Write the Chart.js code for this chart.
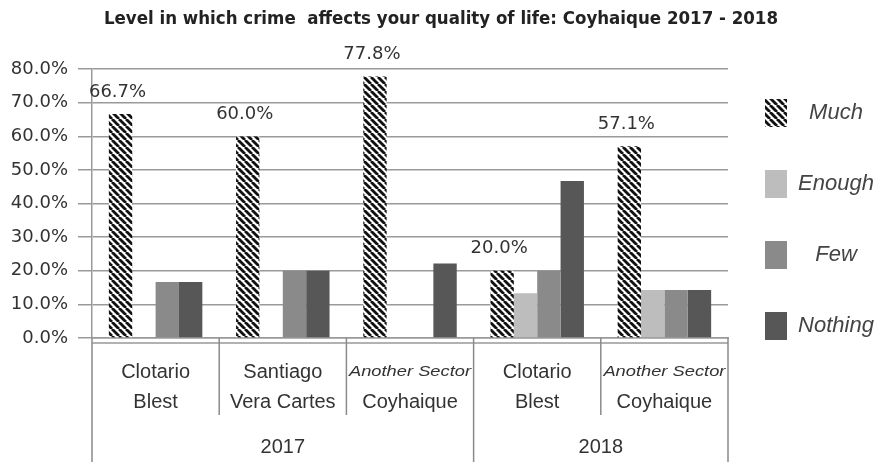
<!DOCTYPE html>
<html>
<head>
<meta charset="utf-8">
<title>Crime and quality of life - Coyhaique</title>
<script src="https://cdn.jsdelivr.net/npm/chart.js@4.4.1/dist/chart.umd.min.js"></script>
<style>
  body { margin: 0; background: #fff; }
  #wrap { width: 882px; height: 462px; }
</style>
</head>
<body>
<div id="wrap"><canvas id="crimeChart" width="882" height="462"></canvas></div>
<script>
// Chart data
const sectors = [
  [`Clotario`, `Blest`],
  [`Santiago`, `Vera Cartes`],
  [`Another Sector`, `Coyhaique`],
  [`Clotario`, `Blest`],
  [`Another Sector`, `Coyhaique`]
];
const years = [`2017`, `2018`];
const yearSpans = [3, 2];

const much = [66.7, 60.0, 77.8, 20.0, 57.1];
const enough = [0, 0, 0, 13.3, 14.3];
const few = [16.7, 20.0, 0, 20.0, 14.3];
const nothing = [16.7, 20.0, 22.2, 46.7, 14.3];

const seriesNames = [`Much`, `Enough`, `Few`, `Nothing`];
const yTicks = [0, 10, 20, 30, 40, 50, 60, 70, 80];

// Hatch pattern for "Much"
const makeHatch = () => {
  const s = 7;
  const c = document.createElement(`canvas`);
  c.width = s;
  c.height = s;
  const g = c.getContext(`2d`);
  g.fillStyle = `#fff`;
  g.fillRect(0, 0, s, s);
  g.strokeStyle = `#111`;
  g.lineWidth = 2.8;
  for (let k = -1; k <= 1; k++) {
    g.beginPath();
    g.moveTo(k * s, 0);
    g.lineTo(k * s + s, s);
    g.stroke();
  }
  return g.createPattern(c, `repeat`);
};

const canvas = document.getElementById(`crimeChart`);
const hatch = makeHatch();
const colors = [hatch, `#bdbdbd`, `#8a8a8a`, `#575757`];

const tickPadding = 19;
const tickLineHeight = 30;

// Labels, separators, years and legend drawn on top
const extrasPlugin = {
  id: `extras`,
  afterDraw(chart) {
    const { ctx, chartArea } = chart;
    const x = chart.scales.x;
    const w = (chartArea.right - chartArea.left) / sectors.length;

    ctx.save();

    // percentage labels on "Much" bars
    const meta = chart.getDatasetMeta(0);
    ctx.font = `18px "DejaVu Sans"`;
    ctx.fillStyle = `#333`;
    ctx.textAlign = `center`;
    ctx.textBaseline = `middle`;
    meta.data.forEach((bar, i) => {
      ctx.fillText(`${much[i].toFixed(1)}%`, bar.x - 3, bar.y - 22);
    });

    // floor front edge
    ctx.strokeStyle = `#999`;
    ctx.lineWidth = 1.5;
    ctx.beginPath();
    ctx.moveTo(chartArea.left, chartArea.bottom + 5);
    ctx.lineTo(chartArea.right, chartArea.bottom + 5);
    ctx.stroke();

    // category separators
    const yearEdges = [0];
    yearSpans.reduce((acc, n) => { yearEdges.push(acc + n); return acc + n; }, 0);
    ctx.strokeStyle = `#8a8a8a`;
    for (let i = 0; i <= sectors.length; i++) {
      const sx = chartArea.left + i * w;
      const bottom = yearEdges.includes(i) ? chart.height : chartArea.bottom + 77;
      ctx.beginPath();
      ctx.moveTo(sx, chartArea.bottom);
      ctx.lineTo(sx, bottom);
      ctx.stroke();
    }

    // italic first line for "Another Sector"
    const firstLine = x.top + tickPadding + tickLineHeight / 2;
    ctx.fillStyle = `#333`;
    ctx.font = `italic 15px "Liberation Sans"`;
    sectors.forEach((s, i) => {
      if (s[0] !== `Another Sector`) return;
      const cx = x.getPixelForValue(i);
      const tw = ctx.measureText(s[0]).width;
      const k = 122 / tw;
      ctx.save();
      ctx.translate(cx, firstLine);
      ctx.scale(k, 1);
      ctx.fillText(s[0], 0, 0);
      ctx.restore();
    });

    // years
    ctx.font = `20px "Liberation Sans"`;
    years.forEach((yr, i) => {
      const from = chartArea.left + yearEdges[i] * w;
      const to = chartArea.left + yearEdges[i + 1] * w;
      ctx.fillText(yr, (from + to) / 2, 447);
    });

    // legend
    const lx = 765;
    const ly = 113;
    const step = 71;
    seriesNames.forEach((name, i) => {
      const cy = ly + i * step;
      ctx.fillStyle = colors[i];
      ctx.fillRect(lx, cy - 14, 22, 28);
      ctx.fillStyle = `#444`;
      ctx.font = `italic 22px "Liberation Sans"`;
      ctx.fillText(name, 836, cy);
    });

    ctx.restore();
  }
};

const makeSet = (label, data, i) => ({
  label,
  data,
  backgroundColor: colors[i],
  borderWidth: 0,
  categoryPercentage: 0.735,
  barPercentage: 1.0
});

const crimeChart = new Chart(canvas, {
  type: `bar`,
  data: {
    labels: sectors,
    datasets: [
      makeSet(seriesNames[0], much, 0),
      makeSet(seriesNames[1], enough, 1),
      makeSet(seriesNames[2], few, 2),
      makeSet(seriesNames[3], nothing, 3)
    ]
  },
  options: {
    responsive: false,
    animation: false,
    layout: { padding: 0 },
    plugins: {
      legend: { display: false },
      tooltip: { enabled: false },
      title: {
        display: true,
        text: `Level in which crime  affects your quality of life: Coyhaique 2017 - 2018`,
        color: `#222`,
        font: { family: `"Liberation Sans Narrow", "DejaVu Sans Condensed", sans-serif`, size: 18.5, weight: `bold` },
        padding: { top: 8, bottom: 39 }
      }
    },
    scales: {
      x: {
        grid: { display: false, drawTicks: false },
        border: { display: true, color: `#999`, width: 1.5 },
        ticks: {
          color: `#333`,
          padding: tickPadding,
          font: { family: `"Liberation Sans"`, size: 20, lineHeight: tickLineHeight / 20 },
          callback: (v, i) => sectors[i].map(t => t === `Another Sector` ? `` : t)
        },
        afterFit: scale => { scale.height = 124; }
      },
      y: {
        min: 0,
        max: 80,
        afterBuildTicks: scale => { scale.ticks = yTicks.map(v => ({ value: v })); },
        grid: { color: `#9a9a9a`, lineWidth: 1.5, tickLength: 14 },
        border: { display: true, color: `#999`, width: 1.5 },
        ticks: {
          color: `#333`,
          padding: 10,
          font: { family: `"DejaVu Sans"`, size: 18 },
          callback: v => `${v.toFixed(1)}%`
        },
        afterFit: scale => { scale.width = 92; }
      },
      // empty right scale: keeps room for the legend
      side: {
        position: `right`,
        grid: { display: false, drawTicks: false },
        border: { display: false },
        ticks: { display: false },
        afterFit: scale => { scale.width = 154; }
      }
    }
  },
  plugins: [extrasPlugin]
});
</script>
</body>
</html>
